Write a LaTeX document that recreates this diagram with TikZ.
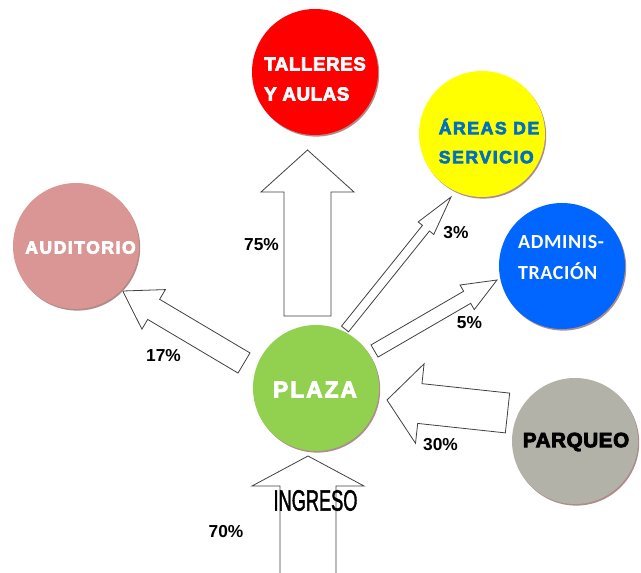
\documentclass[tikz,border=0pt]{standalone}
\usepackage{fontspec}
\setmainfont{Liberation Sans}
\newfontfamily\negra{Liberation Sans Bold}[FakeBold=4]
\newfontfamily\media{Carlito Bold}
\newfontfamily\estrecha{Liberation Sans}[FakeBold=2]
\usetikzlibrary{calc, shadows}
\definecolor{rojo}{RGB}{255,0,0}
\definecolor{amarillo}{RGB}{255,255,0}
\definecolor{azul}{RGB}{0,102,255}
\definecolor{azultexto}{RGB}{0,112,192}
\definecolor{rosa}{RGB}{217,150,148}
\definecolor{verde}{RGB}{146,208,80}
\definecolor{gris}{RGB}{178,178,168}
\definecolor{sombra}{RGB}{175,140,140}

% block arrow: tail, tip, half shaft width, half head width, head length (px)
\newcommand{\flecha}[5]{%
  \coordinate (base) at ($(#2)!#5*0.75pt!(#1)$);
  \draw[bloque] ($(#1)!#3*0.75pt!90:(#2)$) -- ($(base)!#3*0.75pt!90:(#2)$)
    -- ($(base)!#4*0.75pt!90:(#2)$) -- (#2)
    -- ($(base)!#4*0.75pt!-90:(#2)$) -- ($(base)!#3*0.75pt!-90:(#2)$)
    -- ($(#1)!#3*0.75pt!-90:(#2)$) -- cycle;
}

\begin{document}
\begin{tikzpicture}[
    x=0.75pt, y=-0.75pt,
    circulo/.style={
        circle, minimum size=94.5pt, inner sep=0pt,
        drop shadow={shadow xshift=0.9pt, shadow yshift=-1.2pt, fill=sombra, opacity=1}
    },
    rotulo/.style={inner sep=0pt, align=left},
    bloque/.style={draw=black!75, fill=white, line width=0.6pt, line join=miter},
    pct/.style={font=\bfseries\fontsize{13pt}{15pt}\selectfont, inner sep=0pt}
]
\useasboundingbox (0,0) rectangle (641,573);

% Arrows
\coordinate (c75) at (307.5,316);
\coordinate (p75) at (307.5,150);
\flecha{c75}{p75}{23.5}{46.5}{42}
\coordinate (c3) at (345,329);
\coordinate (p3) at (451,197);
\flecha{c3}{p3}{4.5}{10}{40}
\coordinate (c5) at (374.5,351);
\coordinate (p5) at (497,280);
\flecha{c5}{p5}{7}{14.2}{34.5}
\coordinate (c17) at (244,363);
\coordinate (p17) at (122.7,291);
\flecha{c17}{p17}{11.7}{23}{36}
\coordinate (c30) at (507.5,413);
\coordinate (p30) at (387,400);
\flecha{c30}{p30}{20}{40}{33}
\begin{scope}
  \clip (0,0) rectangle (641,573);
  \coordinate (cing) at (308,580);
  \coordinate (ping) at (308,456);
  \flecha{cing}{ping}{28}{56}{30}
\end{scope}

% Circles
\node[circulo, fill=rojo] (talleres) at (315,72) {};
\node[circulo, fill=amarillo] (areas) at (482,134) {};
\node[circulo, fill=azul] (admin) at (562,266) {};
\node[circulo, fill=rosa] (auditorio) at (76,246) {};
\node[circulo, fill=verde] (plaza) at (316,388) {};
\node[circulo, fill=gris] (parqueo) at (575,441) {};

% Circle texts
\node[rotulo, text=white,
      font=\negra\addfontfeature{LetterSpace=3.4}\fontsize{14pt}{22.5pt}\selectfont]
      (t-talleres) at (315,79) {TALLERES\\Y AULAS};
\node[rotulo, text=azultexto,
      font=\negra\addfontfeature{LetterSpace=9}\fontsize{13.2pt}{21.75pt}\selectfont]
      (t-areas) at (489,141) {ÁREAS DE\\SERVICIO};
\node[rotulo, text=white,
      font=\media\addfontfeature{LetterSpace=3}\fontsize{15pt}{23.25pt}\selectfont]
      (t-admin) at (561,258) {ADMINIS-\\TRACIÓN};
\node[rotulo, text=white,
      font=\negra\addfontfeature{LetterSpace=8.5}\fontsize{13.2pt}{15pt}\selectfont]
      (t-auditorio) at (80.5,247.5) {AUDITORIO};
\node[rotulo, text=white,
      font=\negra\addfontfeature{LetterSpace=9}\fontsize{17pt}{19pt}\selectfont]
      (t-plaza) at (315,389.5) {PLAZA};
\node[rotulo, text=black,
      font=\negra\addfontfeature{LetterSpace=2.8}\fontsize{15.5pt}{17pt}\selectfont]
      (t-parqueo) at (576,442) {PARQUEO};

% Percentages
\node[pct] (l75) at (261.5,245) {75\%};
\node[pct] (l3) at (456,232.5) {3\%};
\node[pct] (l5) at (469.5,322.5) {5\%};
\node[pct] (l17) at (163.5,356) {17\%};
\node[pct] (l30) at (440.5,445) {30\%};
\node[pct] (l70) at (226,532) {70\%};

% Entrance
\node[font=\estrecha\fontsize{22pt}{24pt}\selectfont, inner sep=0pt]
      (ingreso) at (315.5,500.5) {\scalebox{0.62}[1]{INGRESO}};

\end{tikzpicture}
\end{document}
